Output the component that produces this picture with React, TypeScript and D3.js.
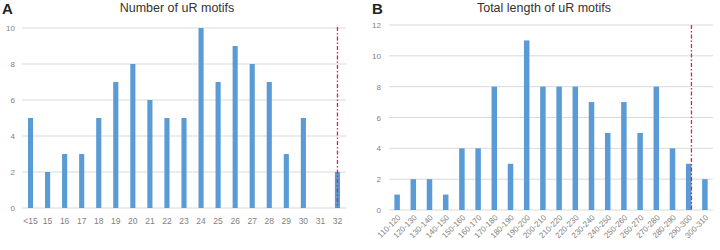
import React from "react";
import * as d3 from "d3";

const catsA = ["<15","15","16","17","18","19","20","21","22","23","24","25","26","27","28","29","30","31","32"];
const valsA = [5,2,3,3,5,7,8,6,5,5,10,7,9,8,7,3,5,0,2];
const ticksA = [0,2,4,6,8,10];

const catsB = ["110-120","120-130","130-140","140-150","150-160","160-170","170-180","180-190","190-200","200-210","210-220","220-230","230-240","240-250","250-260","260-270","270-280","280-290","290-300","300-310"];
const valsB = [1,2,2,1,4,4,8,3,11,8,8,8,7,5,7,5,8,4,3,2];
const ticksB = [0,2,4,6,8,10,12];

const BAR = "#5b9bd5";
const GRID = "#d9d9d9";
const TXT = "#7f7f7f";
const RED = "#e0204a";
const FONT = "Liberation Sans, Arial, sans-serif";

export default function App() {
  const xA = d3.scaleBand().domain(catsA).range([22, 346]).paddingInner(0.7).paddingOuter(0.35);
  const yA = d3.scaleLinear().domain([0, 10]).range([208, 28]);
  const xB = d3.scaleBand().domain(catsB).range([389, 713]).paddingInner(0.66).paddingOuter(0.33);
  const yB = d3.scaleLinear().domain([0, 12]).range([210, 25]);

  const redA = (xA("32") as number) + xA.bandwidth() / 2;
  const redB = (xB("290-300") as number) + xB.bandwidth();

  return (
    <svg width={720} height={250} style={{ position: "absolute", left: 0, top: 0, background: "#fff" }} fontFamily={FONT}>
      {/* Panel A */}
      <text x={2} y={14} fontSize={15} fontWeight="bold" fill="#222">A</text>
      <text x={177} y={12} fontSize={12.5} textAnchor="middle" fill="#333">Number of uR motifs</text>
      {ticksA.map(t => (
        <g key={"ga" + t}>
          <line x1={22} x2={346} y1={yA(t)} y2={yA(t)} stroke={GRID} strokeWidth={1} />
          <text x={15} y={yA(t) + 3} fontSize={8} textAnchor="end" fill={TXT}>{t}</text>
        </g>
      ))}
      {catsA.map((c, i) => (
        <rect key={"ba" + c} x={xA(c)} y={yA(valsA[i])} width={xA.bandwidth()} height={yA(0) - yA(valsA[i])} fill={BAR} />
      ))}
      {catsA.map(c => (
        <text key={"la" + c} x={(xA(c) as number) + xA.bandwidth() / 2} y={224} fontSize={8.5} textAnchor="middle" fill={TXT}>{c}</text>
      ))}
      <line x1={redA} x2={redA} y1={27} y2={208} stroke={RED} strokeWidth={1.3} strokeDasharray="4,2,1.5,2" />

      {/* Panel B */}
      <text x={372} y={14} fontSize={15} fontWeight="bold" fill="#222">B</text>
      <text x={544} y={12} fontSize={12.5} textAnchor="middle" fill="#333">Total length of uR motifs</text>
      {ticksB.map(t => (
        <g key={"gb" + t}>
          <line x1={389} x2={713} y1={yB(t)} y2={yB(t)} stroke={GRID} strokeWidth={1} />
          <text x={381} y={yB(t) + 3} fontSize={8} textAnchor="end" fill={TXT}>{t}</text>
        </g>
      ))}
      {catsB.map((c, i) => (
        <rect key={"bb" + c} x={xB(c)} y={yB(valsB[i])} width={xB.bandwidth()} height={yB(0) - yB(valsB[i])} fill={BAR} />
      ))}
      {catsB.map(c => {
        const cx = (xB(c) as number) + xB.bandwidth() / 2 + 4;
        return (
          <text key={"lb" + c} transform={`translate(${cx},${218}) rotate(-45)`} fontSize={8} textAnchor="end" fill={TXT}>{c}</text>
        );
      })}
      <line x1={redB} x2={redB} y1={25} y2={210} stroke={RED} strokeWidth={1.3} strokeDasharray="4,2,1.5,2" />
    </svg>
  );
}
